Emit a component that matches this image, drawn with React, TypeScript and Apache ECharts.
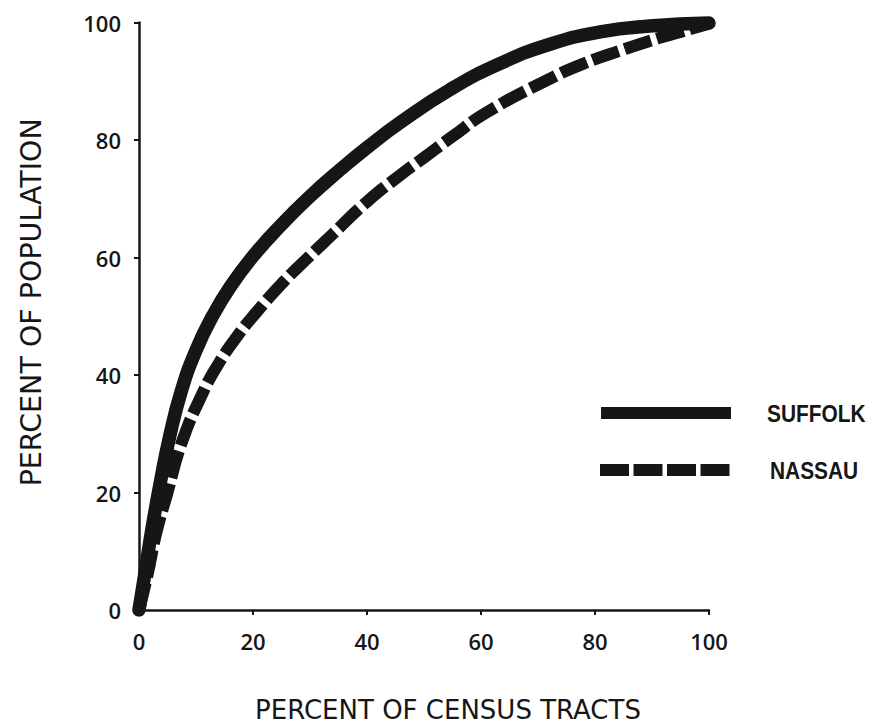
import React, { useEffect, useRef } from "react";
import * as echarts from "echarts";

const suffolkX = [0, 1, 2.2, 3.7, 5.3, 7.4, 10, 13, 16, 20, 25, 30, 35, 40, 46, 54.6, 63.3, 72.1, 80.9, 89.6, 100];
const suffolkY = [0, 6, 13.4, 21.5, 29.2, 37.2, 44.2, 50.2, 55, 60.2, 65.6, 70.4, 74.7, 78.7, 83.1, 88.6, 93, 96.3, 98.4, 99.4, 99.9];

const nassauX = [0, 1.5, 3, 5, 7.5, 11.2, 14, 17, 20, 25.3, 30, 34, 40, 45.8, 50, 55, 61, 71.6, 78, 85, 91, 95, 100];
const nassauY = [0, 6, 13, 20, 28.5, 37, 42, 46.3, 50, 55.8, 60.3, 64, 69.5, 74, 77, 80.6, 84.7, 90.2, 93, 95.4, 97.3, 98.4, 99.8];

const xTicks = [0, 20, 40, 60, 80, 100];
const yTicks = [0, 20, 40, 60, 80, 100];

const legendNames = ["SUFFOLK", "NASSAU"];

const INK = "#161616";

export default function App() {
  const ref = useRef<HTMLDivElement>(null);
  useEffect(() => {
    document.body.style.margin = "0";
    const chart = echarts.init(ref.current!, null, { renderer: "svg" });
    const tickFont = '"Open Sans", "DejaVu Sans", sans-serif';
    const titleFont = '"DejaVu Sans", sans-serif';
    const legendFont = '"Liberation Sans", Arial, sans-serif';
    chart.setOption({
      animation: false,
      backgroundColor: "#ffffff",
      grid: { left: 139, right: 164, top: 22.5, bottom: 118, containLabel: false },
      xAxis: {
        type: "value",
        min: xTicks[0],
        max: xTicks[xTicks.length - 1],
        interval: 20,
        name: "PERCENT OF CENSUS TRACTS",
        nameLocation: "middle",
        nameGap: 87,
        nameTextStyle: {
          fontFamily: titleFont,
          fontSize: 26,
          color: INK,
          padding: [0, 0, 0, 48],
        },
        axisLine: { show: true, lineStyle: { color: INK, width: 2.5 } },
        axisTick: { show: true, length: 5, lineStyle: { color: INK, width: 2 } },
        axisLabel: {
          margin: 20,
          fontFamily: tickFont,
          fontWeight: 600,
          fontSize: 22,
          color: INK,
        },
        splitLine: { show: false },
      },
      yAxis: {
        type: "value",
        min: yTicks[0],
        max: yTicks[yTicks.length - 1],
        interval: 20,
        name: "PERCENT OF POPULATION",
        nameLocation: "middle",
        nameGap: 93,
        nameTextStyle: {
          fontFamily: titleFont,
          fontSize: 28.5,
          color: INK,
          padding: [0, 0, 0, 28],
        },
        axisLine: { show: true, lineStyle: { color: INK, width: 2.5 } },
        axisTick: { show: true, length: 5, lineStyle: { color: INK, width: 2 } },
        axisLabel: {
          margin: 18,
          fontFamily: tickFont,
          fontWeight: 600,
          fontSize: 22,
          color: INK,
        },
        splitLine: { show: false },
      },
      series: [
        {
          name: legendNames[1],
          type: "line",
          smooth: 0.5,
          showSymbol: false,
          data: nassauX.map((x, i) => [x, nassauY[i]]),
          lineStyle: { color: INK, width: 12, type: [28, 6], cap: "butt" },
          z: 2,
        },
        {
          name: legendNames[0],
          type: "line",
          smooth: 0.5,
          showSymbol: false,
          data: suffolkX.map((x, i) => [x, suffolkY[i]]),
          lineStyle: { color: INK, width: 13.5, type: "solid", cap: "round", join: "round" },
          z: 3,
        },
      ],
      graphic: [
        {
          type: "line",
          shape: { x1: 601, y1: 413, x2: 731, y2: 413 },
          style: { stroke: INK, lineWidth: 12, lineCap: "butt" },
        },
        {
          type: "line",
          shape: { x1: 600, y1: 470, x2: 733, y2: 470 },
          style: { stroke: INK, lineWidth: 12, lineDash: [29, 4.5], lineCap: "butt" },
        },
        {
          type: "text",
          x: 767,
          y: 414,
          scaleX: 0.87,
          style: {
            text: legendNames[0],
            fontFamily: legendFont,
            fontWeight: "bold",
            fontSize: 24,
            fill: INK,
            align: "left",
            verticalAlign: "middle",
          },
        },
        {
          type: "text",
          x: 770,
          y: 471,
          scaleX: 0.87,
          style: {
            text: legendNames[1],
            fontFamily: legendFont,
            fontWeight: "bold",
            fontSize: 24,
            fill: INK,
            align: "left",
            verticalAlign: "middle",
          },
        },
      ],
    });
    return () => chart.dispose();
  }, []);
  return (
    <div
      ref={ref}
      style={{ position: "fixed", left: 0, top: 0, width: 873, height: 728, background: "#fff" }}
    />
  );
}
